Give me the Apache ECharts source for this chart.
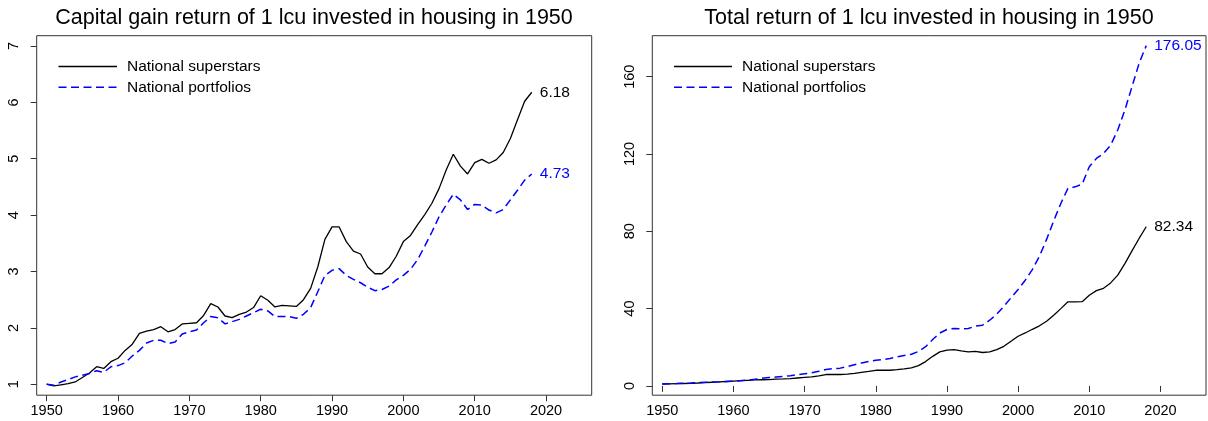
<!DOCTYPE html>
<html>
<head>
<meta charset="utf-8">
<script src="https://cdn.jsdelivr.net/npm/echarts@6/dist/echarts.min.js"></script>
<style>
html,body{margin:0;padding:0;background:#fff;}
#c{width:1208px;height:421px;}
</style>
</head>
<body>
<div id="c"></div>
<script>
const startYear = 1950, endYear = 2018;
const years = [];
for (let y = startYear; y <= endYear; y++) years.push(y);

const xTicks = [1950, 1960, 1970, 1980, 1990, 2000, 2010, 2020];
const capTicks = [1, 2, 3, 4, 5, 6, 7];
const totTicks = [0, 40, 80, 120, 160];

const seriesNames = ['National superstars', 'National portfolios'];
const titles = ['Capital gain return of 1 lcu invested in housing in 1950',
                'Total return of 1 lcu invested in housing in 1950'];

const capSuper = [1.00,0.97,0.99,1.01,1.04, 1.12,1.20,1.31,1.28,1.40,
  1.46,1.60,1.71,1.90,1.94, 1.97,2.02,1.93,1.97,2.07,
  2.08,2.09,2.22,2.43,2.37, 2.21,2.18,2.24,2.28,2.36,
  2.57,2.49,2.37,2.40,2.39, 2.38,2.50,2.70,3.08,3.57,
  3.79,3.79,3.53,3.36,3.31, 3.08,2.96,2.96,3.07,3.27,
  3.53,3.64,3.83,4.01,4.21, 4.47,4.80,5.08,4.87,4.73,
  4.93,4.99,4.92,4.98,5.11, 5.36,5.69,6.02,6.18];

const capPort = [1.00,0.98,1.04,1.08,1.13, 1.16,1.19,1.24,1.21,1.31,
  1.33,1.38,1.50,1.60,1.73, 1.78,1.78,1.72,1.75,1.89,
  1.93,1.96,2.09,2.20,2.18, 2.07,2.11,2.15,2.21,2.27,
  2.33,2.30,2.20,2.20,2.20, 2.17,2.24,2.36,2.64,2.93,
  3.02,3.05,2.93,2.86,2.80, 2.72,2.66,2.68,2.74,2.85,
  2.93,3.04,3.21,3.45,3.70, 3.97,4.18,4.37,4.27,4.10,
  4.19,4.18,4.09,4.04,4.10, 4.27,4.44,4.62,4.73];

const totSuper = [1.0,1.05,1.15,1.25,1.35, 1.5,1.7,1.9,2.05,2.3,
  2.5,2.7,2.9,3.1,3.2, 3.3,3.5,3.6,3.8,4.1,
  4.4,4.7,5.2,5.9,6.0, 5.9,6.1,6.5,7.0,7.5,
  8.1,8.1,8.1,8.4,8.8, 9.3,10.5,12.6,15.3,17.6,
  18.5,18.8,18.1,17.6,17.9, 17.3,17.6,18.8,20.5,23.1,
  25.7,27.4,29.3,31.1,33.5, 36.6,40.0,43.5,43.5,43.6,
  46.9,49.3,50.5,53.3,57.3, 63.3,69.9,76.3,82.34];

const totPort = [1.0,1.1,1.2,1.35,1.5, 1.7,1.85,2.0,2.1,2.25,
  2.4,2.7,3.0,3.4,3.9, 4.3,4.6,4.9,5.3,5.8,
  6.3,6.8,7.6,8.5,8.9, 9.2,10.0,11.0,11.9,12.6,
  13.3,13.6,14.2,15.0,15.7, 16.4,17.8,20.3,24.0,27.4,
  29.2,29.7,29.5,29.7,30.9, 31.4,34.0,37.1,41.2,45.6,
  49.9,54.7,60.2,67.1,75.8, 85.4,94.4,102.2,103.0,104.4,
  113.4,117.7,120.3,124.6,132.4, 142.7,154.8,166.9,176.05];

const FONT = '"Liberation Sans", Arial, Helvetica, sans-serif';
const BLACK = '#000000', BLUE = '#0000ff', BOX = '#333333';
const DASH = [8, 4.5];

function pairs(vals) { return years.map((y, i) => [y, vals[i]]); }

function xAxis(gi) {
  return {
    type: 'value', gridIndex: gi, min: 1948.6, max: 2026.4,
    axisLine: { show: false }, splitLine: { show: false },
    axisTick: { show: true, inside: false, length: 6, customValues: xTicks, lineStyle: { color: BOX, width: 1 } },
    axisLabel: { customValues: xTicks, formatter: v => String(v), color: '#000', fontSize: 14.5, fontFamily: FONT, margin: 8 }
  };
}
function yAxis(gi, min, max, ticks) {
  return {
    type: 'value', gridIndex: gi, min: min, max: max,
    axisLine: { show: false }, splitLine: { show: false },
    axisTick: { show: true, inside: false, length: 6, customValues: ticks, lineStyle: { color: BOX, width: 1 } },
    axisLabel: { customValues: ticks, formatter: v => String(v), color: '#000', fontSize: 14.5, fontFamily: FONT, margin: 15, rotate: 90 }
  };
}
function line(name, vals, gi, color, dashed) {
  return {
    type: 'line', name: name, xAxisIndex: gi, yAxisIndex: gi,
    data: pairs(vals), showSymbol: false, symbol: 'none', silent: true,
    lineStyle: { color: color, width: dashed ? 1.5 : 1.3, type: dashed ? DASH : 'solid' },
    endLabel: {
      show: true, distance: 8, color: color, fontSize: 15.5, fontFamily: FONT,
      formatter: p => p.value[1].toFixed(2)
    },
    animation: false
  };
}
function legendItems(x0, x1, tx) {
  const items = [];
  const ys = [66.5, 87.3];
  const cols = [BLACK, BLUE];
  for (let i = 0; i < 2; i++) {
    items.push({ type: 'line', shape: { x1: x0, y1: ys[i], x2: x1, y2: ys[i] },
      style: { stroke: cols[i], lineWidth: i ? 1.5 : 1.3, lineDash: i ? DASH : null } });
    items.push({ type: 'text', x: tx, y: ys[i],
      style: { text: seriesNames[i], fill: '#000', font: '15.5px ' + FONT, textAlign: 'left', textVerticalAlign: 'middle' } });
  }
  return items;
}

const chart = echarts.init(document.getElementById('c'), null, { renderer: 'canvas' });
chart.setOption({
  backgroundColor: '#ffffff',
  animation: false,
  grid: [
    { left: 36.7, top: 35.7, width: 555, height: 359.5, show: true, borderColor: BOX, borderWidth: 1, backgroundColor: 'transparent', containLabel: false },
    { left: 652.3, top: 35.7, width: 553.7, height: 359.5, show: true, borderColor: BOX, borderWidth: 1, backgroundColor: 'transparent', containLabel: false }
  ],
  xAxis: [xAxis(0), xAxis(1)],
  yAxis: [yAxis(0, 0.805, 7.183, capTicks), yAxis(1, -4.8, 181.2, totTicks)],
  series: [
    line(seriesNames[0], capSuper, 0, BLACK, false),
    line(seriesNames[1], capPort, 0, BLUE, true),
    line(seriesNames[0], totSuper, 1, BLACK, false),
    line(seriesNames[1], totPort, 1, BLUE, true)
  ],
  graphic: [
    { type: 'text', x: 314, y: 18, style: { text: titles[0], fill: '#000', font: '21.5px ' + FONT, textAlign: 'center', textVerticalAlign: 'middle' } },
    { type: 'text', x: 929, y: 18, style: { text: titles[1], fill: '#000', font: '21.5px ' + FONT, textAlign: 'center', textVerticalAlign: 'middle' } }
  ].concat(legendItems(58.5, 117, 127), legendItems(674, 732, 742))
});
</script>
</body>
</html>
